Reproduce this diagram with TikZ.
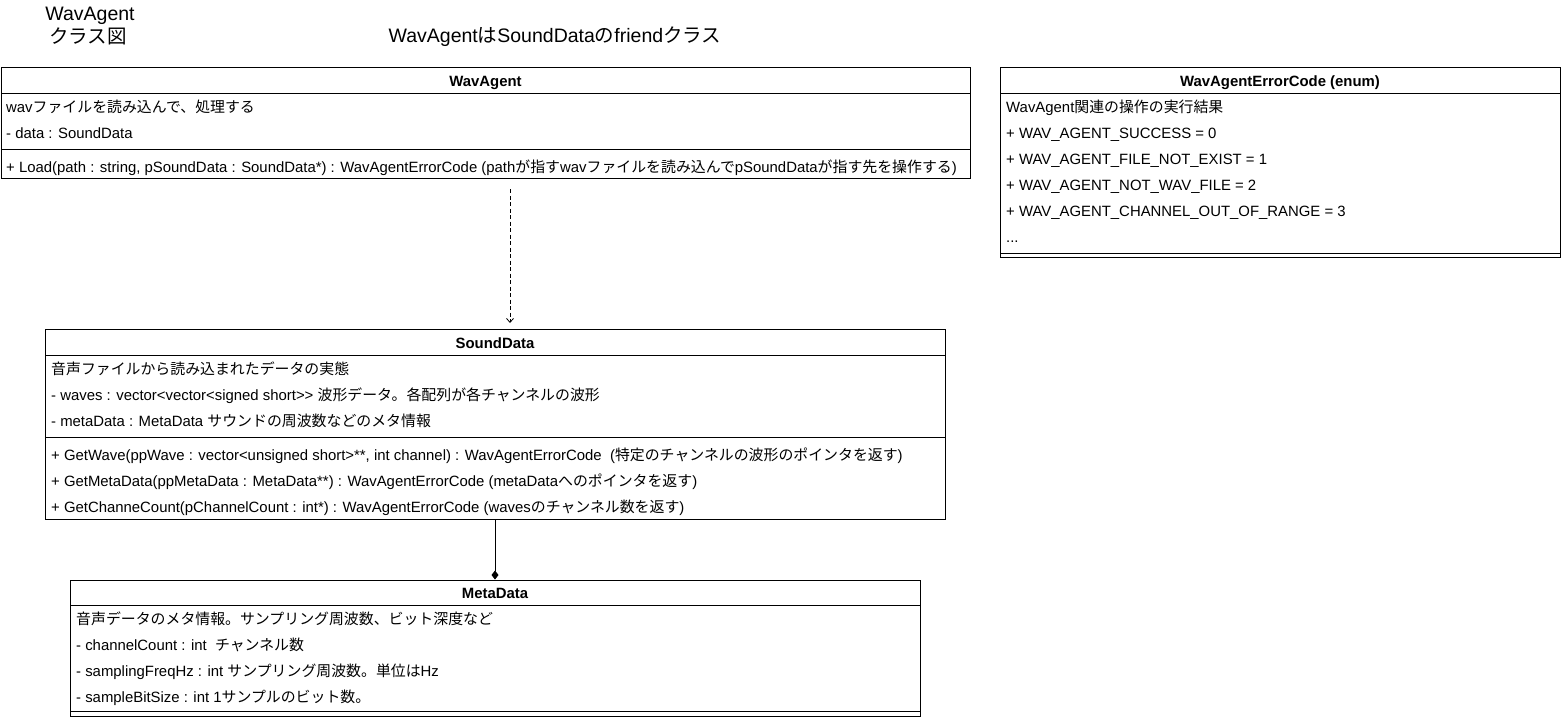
\documentclass[tikz,border=0pt]{standalone}
\usepackage{fontspec}
\setmainfont{Liberation Sans}
\newfontfamily\cjk{Noto Sans CJK JP}
\newcommand\J[1]{{\cjk #1}}
\usetikzlibrary{arrows.meta}
\begin{document}
\begin{tikzpicture}[x=1pt,y=-1pt,
  box/.style={draw, line width=0.9pt, anchor=north west, inner sep=0pt},
  sepline/.style={line width=0.9pt},
  txt/.style={anchor=base west, inner sep=0pt, font=\fontsize{14.9}{17}\selectfont},
  hdr/.style={anchor=base, inner sep=0pt, font=\fontsize{14.9}{17}\selectfont\bfseries},
  ttl/.style={anchor=base, inner sep=0pt, font=\fontsize{19.5}{23}\selectfont},
  dep/.style={line width=0.8pt, dash pattern=on 4pt off 2.5pt, -{Straight Barb[length=4pt,width=7pt]}},
  comp/.style={line width=0.9pt, -{Diamond[length=9pt,width=7pt,fill=black]}}
]
\useasboundingbox (0,0) rectangle (1561,718);

% titles
\node[ttl] (t1) at (90,20) {WavAgent};
\node[ttl] (t2) at (88,43) {\J{クラス図}};
\node[ttl] (t3) at (555,42) {WavAgent\J{は}SoundData\J{の}friend\J{クラス}};

% WavAgent
\node[box, minimum width=969pt, minimum height=111pt] (wa) at (1,67) {};
\draw[sepline] (wa.west |- 0,93) -- (wa.east |- 0,93);
\draw[sepline] (wa.west |- 0,149) -- (wa.east |- 0,149);
\node[hdr] (wah) at (485.5,86) {WavAgent};
\node[txt] (wa1) at (6,112) {wav\J{ファイルを読み込んで、処理する}};
\node[txt] (wa2) at (6,138) {- data : SoundData};
\node[txt] (wa3) at (6,172) {+ Load(path : string, pSoundData : SoundData*) : WavAgentErrorCode (path\J{が指す}wav\J{ファイルを読み込んで}pSoundData\J{が指す先を操作する})};

% WavAgentErrorCode
\node[box, minimum width=560pt, minimum height=190pt] (ec) at (1000,67) {};
\draw[sepline] (ec.west |- 0,93) -- (ec.east |- 0,93);
\draw[sepline] (ec.west |- 0,253) -- (ec.east |- 0,253);
\node[hdr] (ech) at (1280,86) {WavAgentErrorCode (enum)};
\node[txt] (ec1) at (1006,112) {WavAgent\J{関連の操作の実行結果}};
\node[txt] (ec2) at (1006,138) {+ WAV\_AGENT\_SUCCESS = 0};
\node[txt] (ec3) at (1006,164) {+ WAV\_AGENT\_FILE\_NOT\_EXIST = 1};
\node[txt] (ec4) at (1006,190) {+ WAV\_AGENT\_NOT\_WAV\_FILE = 2};
\node[txt] (ec5) at (1006,216) {+ WAV\_AGENT\_CHANNEL\_OUT\_OF\_RANGE = 3};
\node[txt] (ec6) at (1006,242) {...};

% SoundData
\node[box, minimum width=900pt, minimum height=190pt] (sd) at (45,329) {};
\draw[sepline] (sd.west |- 0,355) -- (sd.east |- 0,355);
\draw[sepline] (sd.west |- 0,437) -- (sd.east |- 0,437);
\node[hdr] (sdh) at (495,348) {SoundData};
\node[txt] (sd1) at (51,374) {\J{音声ファイルから読み込まれたデータの実態}};
\node[txt] (sd2) at (51,400) {- waves : vector<vector<signed short>{}> \J{波形データ。各配列が各チャンネルの波形}};
\node[txt] (sd3) at (51,426) {- metaData : MetaData \J{サウンドの周波数などのメタ情報}};
\node[txt] (sd4) at (51,460) {+ GetWave(ppWave : vector<unsigned short>**, int channel) : WavAgentErrorCode\ \ (\J{特定のチャンネルの波形のポインタを返す})};
\node[txt] (sd5) at (51,486) {+ GetMetaData(ppMetaData : MetaData**) : WavAgentErrorCode (metaData\J{へのポインタを返す})};
\node[txt] (sd6) at (51,512) {+ GetChanneCount(pChannelCount : int*) : WavAgentErrorCode (waves\J{のチャンネル数を返す})};

% MetaData
\node[box, minimum width=850pt, minimum height=136pt] (md) at (70,580) {};
\draw[sepline] (md.west |- 0,605) -- (md.east |- 0,605);
\draw[sepline] (md.west |- 0,711) -- (md.east |- 0,711);
\node[hdr] (mdh) at (495,598) {MetaData};
\node[txt] (md1) at (76,624) {\J{音声データのメタ情報。サンプリング周波数、ビット深度など}};
\node[txt] (md2) at (76,650) {- channelCount : int\ \ \J{チャンネル数}};
\node[txt] (md3) at (76,676) {- samplingFreqHz : int \J{サンプリング周波数。単位は}Hz};
\node[txt] (md4) at (76,702) {- sampleBitSize : int 1\J{サンプルのビット数。}};

% connectors
\coordinate (depstart) at (510,189);
\draw[dep, shorten >=6pt] (depstart) -- (sd.north -| depstart);
\coordinate (compx) at (495,0);
\draw[comp, shorten >=0.5pt] (sd.south -| compx) -- (md.north -| compx);
\end{tikzpicture}
\end{document}
